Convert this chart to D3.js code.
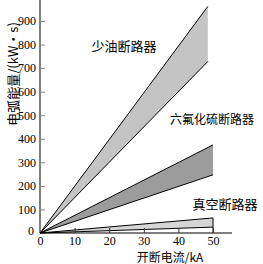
<!DOCTYPE html>
<html>
<head>
<meta charset="utf-8">
<script src="https://cdn.jsdelivr.net/npm/d3@7"></script>
<style>
  body { margin: 0; background: #fff; }
  svg { display: block; }
</style>
</head>
<body>
<svg id="chart"></svg>
<script>
// data
const categories = ["少油断路器", "六氟化硫断路器", "真空断路器"];
const bandEnd = [48.5, 50, 50];          // kA where each band stops
const upperValues = [962, 374, 64];      // kW·s at band end, upper line
const lowerValues = [728, 247, 25];      // kW·s at band end, lower line
const xTicks = [0, 10, 20, 30, 40, 50];
const yTicks = [0, 100, 200, 300, 400, 500, 600, 700, 800, 900];

const width = 263, height = 264;
const fills = ["#c4c4c4", "#9c9c9c", "#d6d6d6"];
const labelPos = [[124, 45], [212, 118], [225, 203]];

const svg = d3.select("#chart")
    .attr("width", width)
    .attr("height", height);

const x = d3.scaleLinear().domain([0, 50]).range([40, 213]);
const y = d3.scaleLinear().domain([0, 900]).range([233, 21]);

const serif = "'Liberation Serif', 'DejaVu Serif', serif";
const cjk = "'Noto Sans CJK SC', sans-serif";

// bands
categories.forEach((c, i) => {
    const pts = [[0, 0], [bandEnd[i], upperValues[i]], [bandEnd[i], lowerValues[i]]];
    svg.append("path")
        .attr("d", d3.line().x(d => x(d[0])).y(d => y(d[1]))(pts) + "Z")
        .attr("fill", fills[i]);
    [upperValues[i], lowerValues[i]].forEach(v => {
        svg.append("line")
            .attr("x1", x(0)).attr("y1", y(0))
            .attr("x2", x(bandEnd[i])).attr("y2", y(v))
            .attr("stroke", "#000").attr("stroke-width", 1);
    });
});

// vertical line closing the vacuum band
svg.append("line")
    .attr("x1", x(50)).attr("x2", x(50))
    .attr("y1", y(0)).attr("y2", y(upperValues[2]))
    .attr("stroke", "#000").attr("stroke-width", 1);

// axes
const gx = svg.append("g")
    .attr("transform", `translate(0,${y(0)})`)
    .call(d3.axisBottom(x).tickValues(xTicks).tickSize(-5).tickPadding(3));
gx.select(".domain").attr("d", `M${x(0)},0H232`).attr("stroke", "#000");
gx.selectAll(".tick line").attr("stroke", "#333");
gx.selectAll(".tick text").attr("font-family", serif).attr("font-size", 12).attr("fill", "#000");
gx.selectAll(".tick").filter(d => d === 0).select("line").remove();

const gy = svg.append("g")
    .attr("transform", `translate(${x(0)},0)`)
    .call(d3.axisLeft(y).tickValues(yTicks).tickSize(-5).tickPadding(4));
gy.select(".domain").attr("d", `M0,${y(0)}V0`).attr("stroke", "#000");
gy.selectAll(".tick line").attr("stroke", "#888");
gy.selectAll(".tick text").attr("font-family", serif).attr("font-size", 12).attr("fill", "#000");
gy.selectAll(".tick").filter(d => d === 0).select("text").attr("dy", "0.1em").attr("x", -6);
gy.selectAll(".tick").filter(d => d === 0).select("line").remove();

// titles
svg.append("text")
    .attr("transform", `translate(12,74) rotate(-90)`)
    .attr("text-anchor", "middle")
    .attr("dominant-baseline", "central")
    .attr("font-family", cjk)
    .attr("font-size", 13)
    .text("电弧能量/(kW·s)");

svg.append("text")
    .attr("x", 170).attr("y", 256)
    .attr("text-anchor", "middle")
    .attr("dominant-baseline", "central")
    .attr("font-family", cjk)
    .attr("font-size", 12)
    .text("开断电流/kA");

// band labels
svg.selectAll(".band-label")
    .data(categories)
    .enter().append("text")
    .attr("class", "band-label")
    .attr("x", (d, i) => labelPos[i][0])
    .attr("y", (d, i) => labelPos[i][1])
    .attr("text-anchor", "middle")
    .attr("dominant-baseline", "central")
    .attr("font-family", cjk)
    .attr("font-size", (d, i) => i === 1 ? 12 : 13)
    .text(d => d);
</script>
</body>
</html>
